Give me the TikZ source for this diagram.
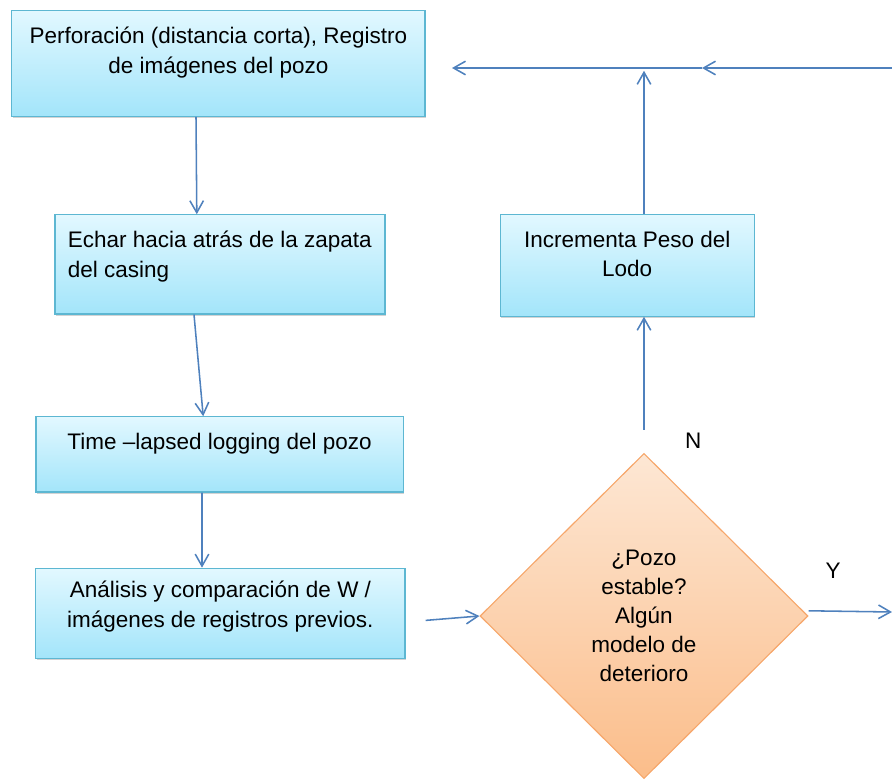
\documentclass[tikz,border=0pt]{standalone}
\usepackage{fontspec}
\setmainfont{Liberation Sans}
\usetikzlibrary{shapes.geometric, arrows.meta, positioning, shadows}
\definecolor{flowblue}{HTML}{4F81BD}
\definecolor{boxline}{HTML}{5DB7D2}
\definecolor{boxtop}{HTML}{E2F8FF}
\definecolor{boxbot}{HTML}{A3E5FA}
\definecolor{dectop}{HTML}{FDE7D4}
\definecolor{decbot}{HTML}{FBBD8A}
\definecolor{decline}{HTML}{F6A66A}

\begin{document}
\begin{tikzpicture}[font=\fontsize{16}{21.3}\selectfont, >={Straight Barb[length=3mm,width=3.4mm]},
    stepbox/.style={draw=boxline, line width=0.8pt, rectangle, inner sep=0pt, top color=boxtop, bottom color=boxbot,
      drop shadow={shadow xshift=0.7pt, shadow yshift=-1.6pt, opacity=0.35}},
    boxtext/.style={inner sep=0pt, align=center},
    flow/.style={->, draw=flowblue, line width=1.1pt}]
    \useasboundingbox (0,0) rectangle (22.3,-19.525);

    % Left column
    \node[stepbox, minimum width=10.33cm, minimum height=2.65cm] (perf) at (5.46,-1.58) {};
    \node[boxtext, anchor=north] (perftxt) at ([yshift=-0.42cm]perf.north) {Perforación (distancia corta), Registro\\de imágenes del pozo};

    \node[stepbox, minimum width=8.25cm, minimum height=2.48cm] (echar) at (5.5,-6.61) {};
    \node[boxtext, align=left, anchor=north west] (echartxt) at ([xshift=0.33cm,yshift=-0.42cm]echar.north west) {Echar hacia atrás de la zapata\\del casing};

    \node[stepbox, minimum width=9.18cm, minimum height=1.88cm] (time) at (5.49,-11.36) {};
    \node[boxtext, anchor=north] (timetxt) at ([yshift=-0.42cm]time.north) {Time –lapsed logging del pozo};

    \node[stepbox, minimum width=9.23cm, minimum height=2.25cm] (anal) at (5.51,-15.33) {};
    \node[boxtext, anchor=north] (analtxt) at ([yshift=-0.32cm]anal.north) {Análisis y comparación de W /\\imágenes de registros previos.};

    % Right column
    \node[stepbox, minimum width=6.35cm, minimum height=2.55cm] (lodo) at (15.68,-6.63) {};
    \node[boxtext, anchor=north] (lodotxt) at ([yshift=-0.42cm]lodo.north) {Incrementa Peso del\\Lodo};

    \node[draw=decline, line width=0.8pt, diamond, top color=dectop, bottom color=decbot, minimum width=8.2cm, minimum height=8.13cm,
      inner sep=0pt, align=center, font=\fontsize{16}{20.6}\selectfont] (estable) at (16.1,-15.4) {¿Pozo\\estable?\\Algún\\modelo de\\deterioro};
    \node (nlabel) at (17.33,-11.03) {N};
    \node (ylabel) at (20.83,-14.28) {Y};

    % Return line
    \coordinate (retR) at (22.3,-1.7);
    \coordinate (retM) at (17.55,-1.7);
    \coordinate (retL) at (11.3,-1.7);
    \coordinate (yout) at (22.3,-15.3);

    % Arrows
    \draw[flow] ([xshift=-0.56cm]perf.south) -- ([xshift=-0.58cm]echar.north);
    \draw[flow] ([xshift=-0.65cm]echar.south) -- ([xshift=-0.41cm]time.north);
    \draw[flow] ([xshift=-0.44cm]time.south) -- ([xshift=-0.46cm]anal.north);
    \draw[flow] ([xshift=0.5cm,yshift=-0.18cm]anal.east) -- (estable.west);
    \draw[flow] ([yshift=0.58cm]estable.north) -- (estable.north |- lodo.south);
    \draw[flow] (lodo.north -| estable.north) -- ([yshift=-0.07cm]estable.north |- retL);
    \draw[flow] (retR) -- (retM);
    \draw[flow] (retM) -- (retL);
    \draw[flow] ([yshift=0.13cm]estable.east) -- (yout);
  \end{tikzpicture}
\end{document}
